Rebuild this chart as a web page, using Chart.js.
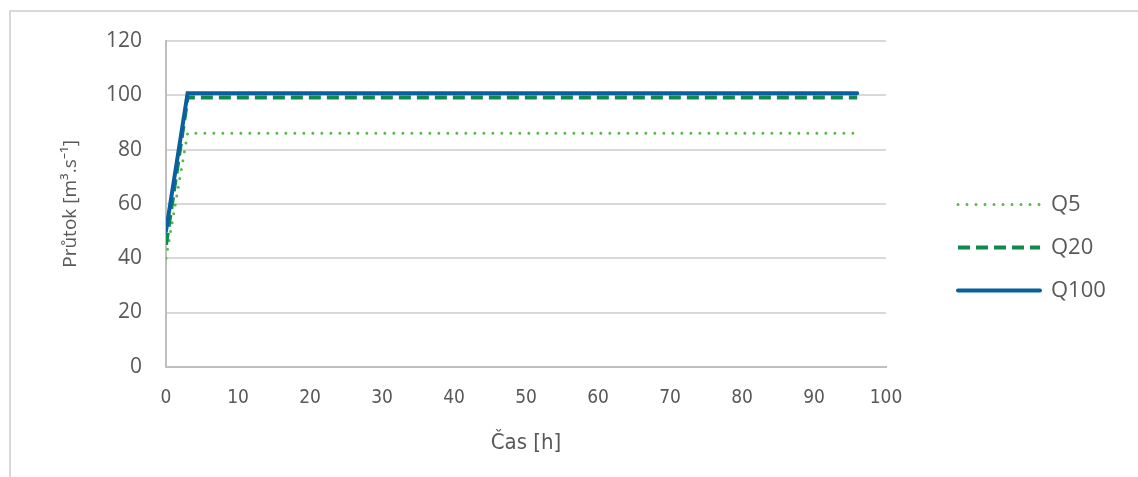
<!DOCTYPE html>
<html>
<head>
<meta charset="utf-8">
<script src="https://cdn.jsdelivr.net/npm/chart.js@4"></script>
<style>
  html, body { margin: 0; padding: 0; background: #fff; }
  #frame {
    position: absolute; left: 9px; top: 10px; width: 1140px; height: 480px;
    border-top: 2px solid #d9d9d9; border-left: 2px solid #d9d9d9;
  }
  #wrap { position: absolute; left: 0; top: 0; width: 1138px; height: 477px; }
</style>
</head>
<body>
<div id="frame"></div>
<div id="wrap"><canvas id="chart"></canvas></div>
<script>
// time [h] and discharge values
const casQ5 = [0, 3, 96];
const q5 = [40, 86, 86];
const casQ20 = [0, 3, 96];
const q20 = [45, 99.2, 99.2];
const casQ100 = [0, 3, 96];
const q100 = [50, 100.8, 100.8];

const xTicks = [0, 10, 20, 30, 40, 50, 60, 70, 80, 90, 100];
const yTicks = [0, 20, 40, 60, 80, 100, 120];

const FONT = "'Open Sans', 'Noto Sans', sans-serif";
const NARROW = "'Liberation Sans Narrow', 'DejaVu Sans Condensed', 'Open Sans', sans-serif";
const GREY = "#595959";

function pts(xs, ys) {
  return xs.map((x, i) => ({ x: x, y: ys[i] }));
}

// legend lines take dash / width / cap from the dataset
function legendLabels(chart) {
  const items = Chart.defaults.plugins.legend.labels.generateLabels(chart);
  items.forEach(it => {
    const ds = chart.data.datasets[it.datasetIndex];
    it.lineDash = ds.borderDash || [];
    it.lineCap = ds.borderCapStyle || "butt";
    it.lineWidth = ds.borderWidth;
    it.strokeStyle = ds.borderColor;
  });
  return items;
}

// legend sits a bit away from the plot, like in excel
const legendShift = {
  id: "legendShift",
  afterLayout(chart) {
    const lg = chart.legend;
    if (!lg) return;
    const dx = 937 - lg.left;
    lg.left += dx;
    lg.right += dx;
  }
};

new Chart(document.getElementById("chart"), {
  type: "line",
  data: {
    datasets: [
      {
        label: "Q5",
        data: pts(casQ5, q5),
        borderColor: "#5ab946",
        borderWidth: 3,
        borderDash: [0, 9],
        borderCapStyle: "round",
        pointRadius: 0,
        order: 3
      },
      {
        label: "Q20",
        data: pts(casQ20, q20),
        borderColor: "#0f8a4f",
        borderWidth: 4,
        borderDash: [12, 6],
        pointRadius: 0,
        order: 2
      },
      {
        label: "Q100",
        data: pts(casQ100, q100),
        borderColor: "#0a5f9e",
        borderWidth: 4,
        borderCapStyle: "round",
        pointRadius: 0,
        order: 1
      }
    ]
  },
  options: {
    responsive: true,
    maintainAspectRatio: false,
    animation: false,
    layout: { padding: { top: 41, right: 4, bottom: 21, left: 0 } },
    plugins: {
      tooltip: { enabled: false },
      legend: {
        position: "right",
        align: "start",
        reverse: true,
        title: { display: true, text: "", font: { size: 12 }, padding: { top: 117, bottom: 0 } },
        labels: {
          usePointStyle: true,
          pointStyle: "line",
          pointStyleWidth: 82,
          color: GREY,
          padding: 21,
          font: { family: FONT, size: 22 },
          generateLabels: legendLabels
        }
      }
    },
    scales: {
      x: {
        type: "linear",
        min: 0,
        max: 100,
        afterBuildTicks: s => { s.ticks = xTicks.map(v => ({ value: v })); },
        afterFit: s => { s.paddingRight = 252; },
        grid: { display: false, drawTicks: false },
        border: { color: "#bfbfbf", width: 2 },
        ticks: { color: GREY, font: { family: NARROW, size: 19 }, padding: 20, maxRotation: 0 },
        title: {
          display: true,
          text: "Čas [h]",
          color: GREY,
          font: { family: NARROW, size: 22 },
          padding: { top: 0, bottom: 0 }
        }
      },
      y: {
        min: 0,
        max: 120,
        afterBuildTicks: s => { s.ticks = yTicks.map(v => ({ value: v })); },
        afterFit: s => { s.width = 166; },
        grid: { color: "#d9d9d9", lineWidth: 2, drawTicks: false },
        border: { color: "#bfbfbf", width: 2 },
        ticks: { color: GREY, font: { family: FONT, size: 21 }, padding: 24 },
        title: {
          display: true,
          text: "Průtok [m³.s⁻¹]",
          color: GREY,
          font: { family: FONT, size: 19 },
          padding: { top: 59, bottom: 0 }
        }
      }
    }
  },
  plugins: [legendShift]
});
</script>
</body>
</html>
